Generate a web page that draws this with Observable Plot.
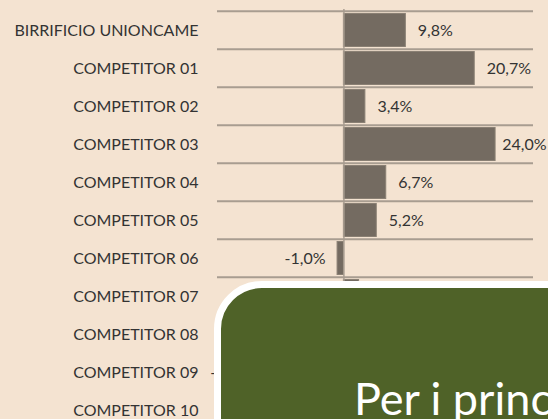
<!DOCTYPE html>
<html>
<head>
<meta charset="utf-8">
<script src="https://cdn.jsdelivr.net/npm/d3@7"></script>
<script src="https://cdn.jsdelivr.net/npm/@observablehq/plot@0.6"></script>
<style>
  html, body { margin: 0; padding: 0; background: #f4e3d1; overflow: hidden; }
  #wrap { position: relative; width: 548px; height: 419px; overflow: hidden; }
  #box {
    position: absolute; left: 214px; top: 281px; width: 420px; height: 220px;
    background: #4f6228; border: 7px solid #ffffff; border-top-left-radius: 48px;
    border-top-right-radius: 48px; box-sizing: border-box;
  }
  #box span {
    position: absolute; left: 133px; top: 83px; white-space: nowrap;
    font-family: Lato, "Open Sans", sans-serif; font-size: 45px; color: #ffffff;
  }
</style>
</head>
<body>
<div id="wrap"><div id="chart"></div><div id="box"><span>Per i principali competitor</span></div></div>
<script>
const categories = ["BIRRIFICIO UNIONCAME", "COMPETITOR 01", "COMPETITOR 02", "COMPETITOR 03",
  "COMPETITOR 04", "COMPETITOR 05", "COMPETITOR 06", "COMPETITOR 07", "COMPETITOR 08",
  "COMPETITOR 09", "COMPETITOR 10"];
const values = [9.8, 20.7, 3.4, 24.0, 6.7, 5.2, -1.0, 2.4, 1.5, -11.3, 3.0];
const xDomain = [-20, 30];

const data = categories.map((c, i) => ({cat: c, v: values[i]}));
const loc = d3.formatLocale({decimal: ",", thousands: ".", grouping: [3], currency: ["€", ""], minus: "-"});
const fmt = v => loc.format(".1f")(v) + "%";

const height = 440, marginTop = 9, marginBottom = 10;
const step = (height - marginTop - marginBottom) / categories.length;
const grid = "#a89d90";
const fitLimit = 22; // labels of longer bars are pushed inside the right edge

const chart = Plot.plot({
  width: 548,
  height,
  marginLeft: 217,
  marginRight: 15,
  marginTop,
  marginBottom,
  style: {background: "transparent", fontFamily: "Lato, 'Open Sans', sans-serif", fontSize: "16px", color: "#333"},
  x: {domain: xDomain, axis: null},
  y: {domain: categories, padding: 0, tickSize: 0, tickPadding: 19, label: null},
  marks: [
    Plot.ruleY(categories, {y: d => d, x1: xDomain[0], x2: xDomain[1], stroke: grid, strokeWidth: 2, dy: -step / 2}),
    Plot.barX(data, {x: "v", y: "cat", fill: "#746b61", stroke: "#8a8074", strokeWidth: 1, insetTop: 2.5, insetBottom: 2.5}),
    Plot.ruleX([0], {stroke: grid, strokeWidth: 1.5}),
    Plot.text(data.filter(d => d.v >= 0 && d.v < fitLimit), {x: "v", y: "cat", text: d => fmt(d.v), textAnchor: "start", dx: 12, fill: "#333"}),
    Plot.text(data.filter(d => d.v >= fitLimit), {x: () => xDomain[1], y: "cat", text: d => fmt(d.v), textAnchor: "end", dx: 13, fill: "#333"}),
    Plot.text(data.filter(d => d.v < 0), {x: "v", y: "cat", text: d => fmt(d.v), textAnchor: "end", dx: -12, fill: "#333"})
  ]
});
document.getElementById("chart").appendChild(chart);
</script>
</body>
</html>
